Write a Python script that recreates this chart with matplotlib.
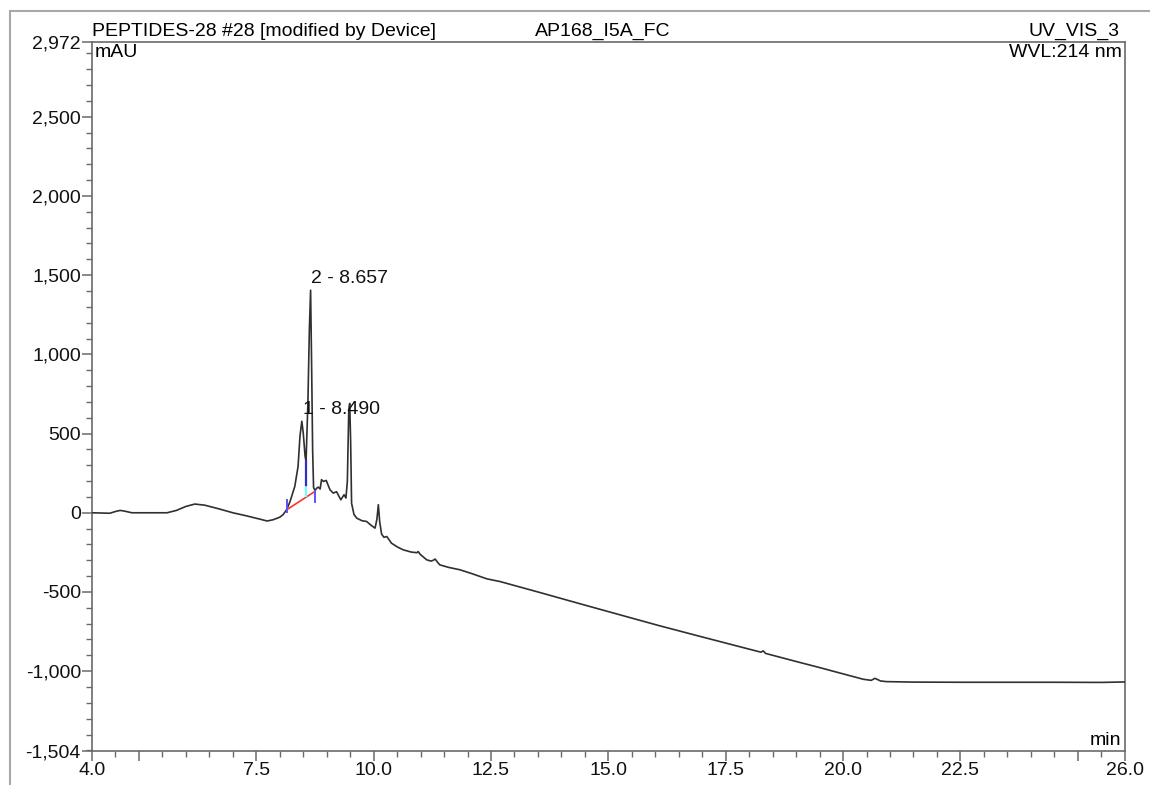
import matplotlib
matplotlib.use("Agg")
import matplotlib.pyplot as plt
from matplotlib.patches import Rectangle
from matplotlib.ticker import FixedLocator, MultipleLocator

plt.rcParams.update({
    "font.family": ["Liberation Sans", "DejaVu Sans"],
    "font.size": 14,
})

# UV trace, 214 nm (time in min, signal in mAU)
tiempo = [4.0, 4.38, 4.5, 4.6, 4.7, 4.85, 5.6, 5.8, 6.0, 6.19, 6.4, 6.7, 7.0,
          7.3, 7.6, 7.73, 7.86, 8.0, 8.07, 8.12, 8.147, 8.22, 8.32, 8.39, 8.43,
          8.47, 8.50, 8.54, 8.56, 8.60, 8.63, 8.657, 8.68, 8.70, 8.72, 8.75,
          8.79, 8.82, 8.86, 8.89, 8.93, 8.99, 9.07, 9.14, 9.21, 9.30, 9.37,
          9.41, 9.44, 9.47, 9.49, 9.51, 9.53, 9.58, 9.64, 9.75, 9.85, 9.95,
          10.03, 10.07, 10.10, 10.13, 10.17, 10.22, 10.28, 10.38, 10.50, 10.63,
          10.80, 10.92, 10.95, 10.99, 11.13, 11.22, 11.27, 11.31, 11.36, 11.41,
          11.6, 11.84, 12.1, 12.41, 12.69, 13.5, 14.5, 15.5, 16.1, 17.0, 18.0,
          18.25, 18.30, 18.35, 19.08, 19.51, 20.0, 20.43, 20.6, 20.68, 20.8,
          20.93, 21.5, 22.5, 23.5, 24.5, 25.5, 26.0]
senal = [0, -3, 8, 15, 10, 0, 0, 15, 40, 55, 48, 25, 0,
         -20, -42, -52, -44, -28, -12, 8, 19, 72, 166, 293, 482,
         578, 504, 356, 325, 700, 1150, 1405, 900, 400, 160, 140,
         156, 162, 150, 209, 198, 204, 145, 124, 133, 82, 114,
         93, 200, 650, 690, 450, 60, -10, -34, -50, -55, -80,
         -97, -40, 51, -60, -135, -155, -150, -192, -215, -234,
         -248, -252, -245, -262, -297, -305, -300, -292, -312, -329,
         -345, -360, -385, -417, -434, -500, -583, -665, -714, -784, -861,
         -880, -872, -888, -945, -978, -1017, -1051, -1058, -1045, -1062,
         -1066, -1069, -1070, -1070, -1070, -1071, -1068]

# integrated peaks
picos_t = [8.490, 8.657]
picos_h = [578, 1405]
picos_txt = ["1 - 8.490", "2 - 8.657"]

# baseline of the integration and the peak split drop line
base_t = [8.147, 8.75]
base_h = [19, 135]
corte_t = 8.558
corte_bajo, corte_medio, corte_alto = 103, 177, 325

y_ticks = [-1504, -1000, -500, 0, 500, 1000, 1500, 2000, 2500, 2972]
x_ticks = [4.0, 5.0, 7.5, 10.0, 12.5, 15.0, 17.5, 20.0, 22.5, 25.0, 26.0]
x_labels = ["4.0", "", "7.5", "10.0", "12.5", "15.0", "17.5", "20.0", "22.5",
            "", "26.0"]

fig = plt.figure(figsize=(11.5, 7.85), dpi=100)
ax = fig.add_axes([0.080, 0.0433, 0.898, 0.9032])

ax.plot(tiempo, senal, color="#303030", lw=1.2, zorder=3)
ax.plot(base_t, base_h, color="#ff3030", lw=1.2, zorder=4)
ax.plot([base_t[0]] * 2, [base_h[0] - 12, base_h[0] + 63], color="#5555ff", lw=1.4, zorder=4)
ax.plot([base_t[1]] * 2, [base_h[1] - 65, base_h[1] + 5], color="#5555ff", lw=1.4, zorder=4)
ax.plot([corte_t] * 2, [corte_bajo, corte_medio], color="#70ffff", lw=1.6, zorder=4)
ax.plot([corte_t] * 2, [corte_medio, corte_alto], color="#3030c0", lw=1.6, zorder=4)

for t, h, txt in zip(picos_t, picos_h, picos_txt):
    ax.annotate(txt, (t, h), xytext=(0, 2), textcoords="offset points",
                ha="left", va="bottom", color="#111111")

ax.set_xlim(4.0, 26.0)
ax.set_ylim(-1504, 2972)

ax.yaxis.set_major_locator(FixedLocator(y_ticks))
ax.set_yticklabels([f"{v:,}" for v in y_ticks])
ax.yaxis.set_minor_locator(FixedLocator(range(-1500, 2972, 100)))
ax.xaxis.set_major_locator(FixedLocator(x_ticks))
ax.set_xticklabels(x_labels)
ax.xaxis.set_minor_locator(MultipleLocator(0.5))

for s in ax.spines.values():
    s.set_color("#6a6a6a")
    s.set_linewidth(1.2)
ax.tick_params(which="major", length=7, width=1.1, color="#6a6a6a",
               labelcolor="#111111", pad=1)
ax.tick_params(which="minor", length=4, width=1.0, color="#6a6a6a")

ax.text(0.003, 0.997, "mAU", transform=ax.transAxes, ha="left", va="top")
ax.text(0.997, 0.997, "WVL:214 nm", transform=ax.transAxes, ha="right", va="top")
ax.text(0.997, 0.003, "min", transform=ax.transAxes, ha="right", va="bottom")

ax.text(0.0, 1.003, "PEPTIDES-28 #28 [modified by Device]", transform=ax.transAxes,
        ha="left", va="bottom")
ax.text(0.495, 1.003, "AP168_I5A_FC", transform=ax.transAxes, ha="center", va="bottom")
ax.text(0.995, 1.003, "UV_VIS_3", transform=ax.transAxes, ha="right", va="bottom")

# outer frame of the report page
fig.patches.append(Rectangle((10 / 1150, -0.1), 1.2, 1.1 - 11 / 785,
                             transform=fig.transFigure, fill=False,
                             edgecolor="#a8a8a8", lw=1.5))

fig.savefig("out.png", dpi=100)
